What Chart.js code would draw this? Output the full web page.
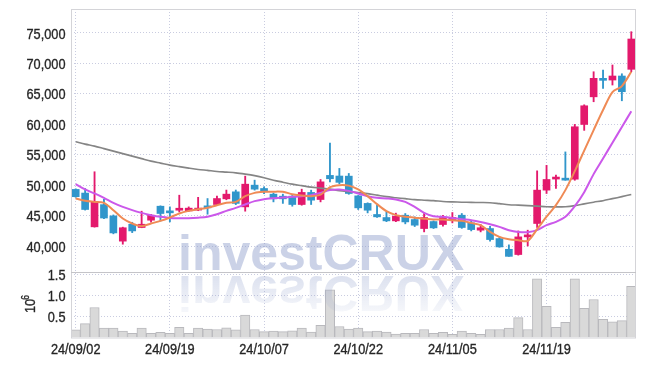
<!DOCTYPE html>
<html>
<head>
<meta charset="utf-8">
<script src="https://cdn.jsdelivr.net/npm/chart.js@4.4.1/dist/chart.umd.min.js"></script>
<style>
html, body { margin: 0; padding: 0; background: #fff; }
</style>
</head>
<body>
<canvas id="chart" width="645" height="366"></canvas>
<script>
// trading days shown
var dates = [
  '24/09/02','24/09/03','24/09/04','24/09/05','24/09/06','24/09/09','24/09/10','24/09/11','24/09/12','24/09/13',
  '24/09/19','24/09/20','24/09/23','24/09/24','24/09/25','24/09/26','24/09/27','24/09/30','24/10/02','24/10/04',
  '24/10/07','24/10/08','24/10/10','24/10/11','24/10/14','24/10/15','24/10/16','24/10/17','24/10/18','24/10/21',
  '24/10/22','24/10/23','24/10/24','24/10/25','24/10/28','24/10/29','24/10/30','24/10/31','24/11/01','24/11/04',
  '24/11/05','24/11/06','24/11/07','24/11/08','24/11/11','24/11/12','24/11/13','24/11/14','24/11/15','24/11/18',
  '24/11/19','24/11/20','24/11/21','24/11/22','24/11/25','24/11/26','24/11/27','24/11/28','24/11/29','24/12/02'
];

var opens = [49300,48700,43150,46800,44950,40800,43580,43040,44240,46540,
  45720,45880,45770,45900,46540,46820,47750,48900,46430,50000,
  49450,48520,48190,48190,46820,48800,47640,51600,51500,51480,
  48240,47000,45180,44680,44130,45060,44350,42870,44020,43530,
  44350,45060,43800,42600,42870,41220,39460,38600,41500,43700,
  49180,51000,51040,50980,59970,64510,67490,67270,67930,69030];
var highs = [49400,49450,52200,47650,45100,43100,43900,45720,45200,46600,
  46430,48350,46430,48000,47800,48200,49190,49200,51480,50820,
  49720,48700,48520,48300,49340,49180,50930,56900,52750,51920,
  48300,47100,46710,45660,45400,45340,44790,45340,44130,45060,
  45500,45340,44240,43530,43250,41500,40190,42480,42600,52350,
  53250,51640,55460,59980,63200,68630,68920,69740,68300,75210];
var lows = [48000,45900,43100,44500,42000,40300,42200,43000,43900,44100,
  43960,45600,45700,45800,45220,46700,47600,46800,45720,49180,
  48600,47250,47000,46540,46700,46820,47250,50540,50200,48500,
  46000,45440,44700,44000,44000,43640,43200,42320,42870,43250,
  43800,42900,42480,42320,40800,39800,38300,38500,40000,43040,
  48630,49450,50800,50800,59000,63700,65900,66450,63860,68630];
var closes = [48100,46000,47250,44600,42150,43000,42480,43580,45060,45340,
  45450,46100,46220,46200,46270,47800,48520,47000,50160,49340,
  48900,47750,47750,46820,48800,47530,50540,51050,50460,48630,
  46270,45880,44790,44130,44900,43960,43420,44680,42980,44680,
  44620,43040,42700,43000,41060,39850,38300,41500,41780,49180,
  50930,51300,50820,59590,63040,67550,67220,67930,65350,74010];

// moving average lines
var maShort = [47810,47420,47250,47090,45890,44520,43700,43260,43700,44130,
  44690,45350,45770,46050,46270,46710,47090,47250,48190,48730,
  48900,48930,48900,48520,48280,48190,48440,49670,50000,49920,
  49290,48190,46880,45720,45070,44820,44660,44490,44360,44360,
  44240,44130,43800,43420,42320,41500,41120,40950,40840,42760,
  44820,46710,49180,52300,55670,59050,62340,65300,66280,68630];
var maMid = [50170,49290,48640,47910,47090,46430,45890,45440,45070,44790,
  44620,44570,44570,44660,44820,45230,45770,46270,46830,47370,
  47700,47860,47980,48080,48190,48360,48730,49180,49290,49060,
  48640,48190,47910,47810,47650,47250,46430,45450,44900,44790,
  44620,44410,44240,43960,43590,43140,42600,42320,42270,42600,
  43420,43960,44790,46550,48850,51810,54370,56970,59550,62140];
var maLong = [57120,56740,56410,56000,55590,55180,54770,54360,53950,53620,
  53290,53040,52800,52580,52420,52250,52140,52020,51810,51560,
  51230,50820,50490,50170,49920,49670,49510,49340,49100,48930,
  48770,48600,48360,48110,47940,47780,47620,47530,47450,47320,
  47250,47200,47170,47150,47120,46960,46790,46710,46630,46550,
  46460,46430,46460,46630,46920,47200,47450,47780,48110,48470];

// volume in millions of shares
var volumes = [0.18,0.33,0.71,0.22,0.22,0.15,0.10,0.22,0.10,0.12,
  0.10,0.24,0.10,0.22,0.20,0.19,0.23,0.18,0.53,0.19,
  0.14,0.15,0.14,0.16,0.22,0.13,0.29,1.13,0.26,0.20,
  0.22,0.14,0.15,0.13,0.08,0.10,0.10,0.19,0.10,0.12,
  0.075,0.15,0.10,0.075,0.19,0.19,0.22,0.47,0.19,1.39,
  0.74,0.24,0.36,1.39,0.69,0.90,0.43,0.37,0.40,1.21];

var priceTicks = [40000,45000,50000,55000,60000,65000,70000,75000];
var volumeTicks = [0.5,1.0,1.5];

var UP = '#e3196c', DOWN = '#3196cb';
var GRID = '#c9cce0';
var FONT = '"Liberation Sans", Arial, sans-serif';
var SQUEEZE = 0.85;   // tick font is a narrow face, squeeze a normal one

var candleColors = closes.map(function(c, i) { return c >= opens[i] ? UP : DOWN; });
var wicks = lows.map(function(l, i) { return [l, highs[i]]; });
var bodies = opens.map(function(o, i) { return [o, closes[i]]; });

function narrowText(ctx, text, x, y, align) {
  ctx.save();
  ctx.translate(x, y);
  ctx.scale(SQUEEZE, 1);
  ctx.textAlign = align;
  ctx.fillText(text, 0, 0);
  ctx.strokeText(text, 0, 0);
  ctx.restore();
}

var framePlugin = {
  id: 'frame',
  afterDatasetsDraw: function(chart) {
    var ctx = chart.ctx;
    // watermark with reflection
    ctx.save();
    ctx.font = 'bold 50px "Liberation Sans", Arial, sans-serif';
    ctx.textBaseline = 'alphabetic';
    ctx.fillStyle = 'rgba(140,156,202,0.45)';
    ctx.fillText('investCRUX', 178, 270);
    ctx.translate(0, 546);
    ctx.scale(1, -1);
    var g = ctx.createLinearGradient(0, 270, 0, 232);
    g.addColorStop(0, 'rgba(140,156,202,0.3)');
    g.addColorStop(1, 'rgba(140,156,202,0.07)');
    ctx.fillStyle = g;
    ctx.fillText('investCRUX', 178, 270);
    ctx.restore();
  },
  afterDraw: function(chart) {
    var ctx = chart.ctx, a = chart.chartArea;
    var sy = chart.scales.y, sv = chart.scales.yv, sx = chart.scales.x;
    ctx.save();
    ctx.strokeStyle = '#d4d4d8';
    ctx.lineWidth = 1;
    ctx.strokeRect(a.left + 0.5, a.top + 0.5, a.right - a.left - 1, a.bottom - a.top);
    ctx.strokeStyle = '#c4c4c8';
    ctx.beginPath();
    ctx.moveTo(a.left, Math.round(sy.bottom) + 0.5);
    ctx.lineTo(a.right, Math.round(sy.bottom) + 0.5);
    ctx.stroke();

    // tick labels
    ctx.fillStyle = '#262626';
    ctx.strokeStyle = '#262626';
    ctx.lineWidth = 0.35;
    ctx.font = '15px ' + FONT;
    ctx.textBaseline = 'middle';
    priceTicks.forEach(function(v) {
      narrowText(ctx, v.toLocaleString('en-US'), 65.5, sy.getPixelForValue(v) + 1.5, 'right');
    });
    volumeTicks.forEach(function(v) {
      narrowText(ctx, v.toFixed(1), 65.5, sv.getPixelForValue(v) + 1.5, 'right');
    });
    dates.forEach(function(d, i) {
      if (i % 10 === 0) narrowText(ctx, d, sx.getPixelForValue(i), 349.5, 'center');
    });

    // 10^6 unit label
    ctx.translate(35, 306);
    ctx.rotate(-Math.PI / 2);
    ctx.textBaseline = 'alphabetic';
    ctx.font = '15px ' + FONT;
    narrowText(ctx, '10', 0, 0, 'center');
    ctx.font = '10px ' + FONT;
    narrowText(ctx, '6', 8.5, -6, 'center');
    ctx.restore();
  }
};

new Chart(document.getElementById('chart').getContext('2d'), {
  data: {
    labels: dates,
    datasets: [
      { type: 'line', label: 'MA short', data: maShort, yAxisID: 'y', borderColor: '#ef8a55', borderWidth: 2, pointRadius: 0, tension: 0.3, order: 0 },
      { type: 'line', label: 'MA mid', data: maMid, yAxisID: 'y', borderColor: '#cb58ea', borderWidth: 2, pointRadius: 0, tension: 0.3, order: 0 },
      { type: 'line', label: 'MA long', data: maLong, yAxisID: 'y', borderColor: '#858585', borderWidth: 1.6, pointRadius: 0, tension: 0.3, order: 0 },
      { type: 'bar', label: 'body', data: bodies, yAxisID: 'y', backgroundColor: candleColors, barThickness: 7, minBarLength: 2, grouped: false, order: 1 },
      { type: 'bar', label: 'wick', data: wicks, yAxisID: 'y', backgroundColor: candleColors, barThickness: 1.2, grouped: false, order: 2 },
      { type: 'bar', label: 'volume', data: volumes, yAxisID: 'yv', backgroundColor: '#d9d9d9', borderColor: '#b9b9bd', borderWidth: 1,
        barPercentage: 1, categoryPercentage: 1, grouped: false, order: 3 }
    ]
  },
  options: {
    responsive: false,
    animation: false,
    layout: { padding: { top: 9, right: 9, left: 0, bottom: 0 } },
    plugins: { legend: { display: false }, tooltip: { enabled: false } },
    scales: {
      x: {
        type: 'category',
        offset: true,
        grid: {
          offset: false,
          drawTicks: false,
          color: function(ctx) { return ctx.index % 10 === 0 ? GRID : 'rgba(0,0,0,0)'; }
        },
        border: { display: false, dash: [1, 2] },
        ticks: { display: false },
        afterFit: function(s) { s.height = 28.5; }
      },
      // left boxes in one stack are laid out in reverse, so the volume panel comes first
      yv: {
        type: 'linear',
        position: 'left',
        stack: 'panels',
        stackWeight: 65.5,
        min: 0,
        max: 1.55,
        afterBuildTicks: function(s) { s.ticks = volumeTicks.map(function(v) { return { value: v }; }); },
        grid: { color: GRID, drawTicks: false },
        border: { display: false, dash: [1, 2] },
        ticks: { display: false },
        afterFit: function(s) { s.width = 71; }
      },
      y: {
        type: 'linear',
        position: 'left',
        stack: 'panels',
        stackWeight: 263,
        min: 35730,
        max: 78940,
        afterBuildTicks: function(s) { s.ticks = priceTicks.map(function(v) { return { value: v }; }); },
        grid: { color: GRID, drawTicks: false },
        border: { display: false, dash: [1, 2] },
        ticks: { display: false },
        afterFit: function(s) { s.width = 71; }
      }
    }
  },
  plugins: [framePlugin]
});
</script>
</body>
</html>
